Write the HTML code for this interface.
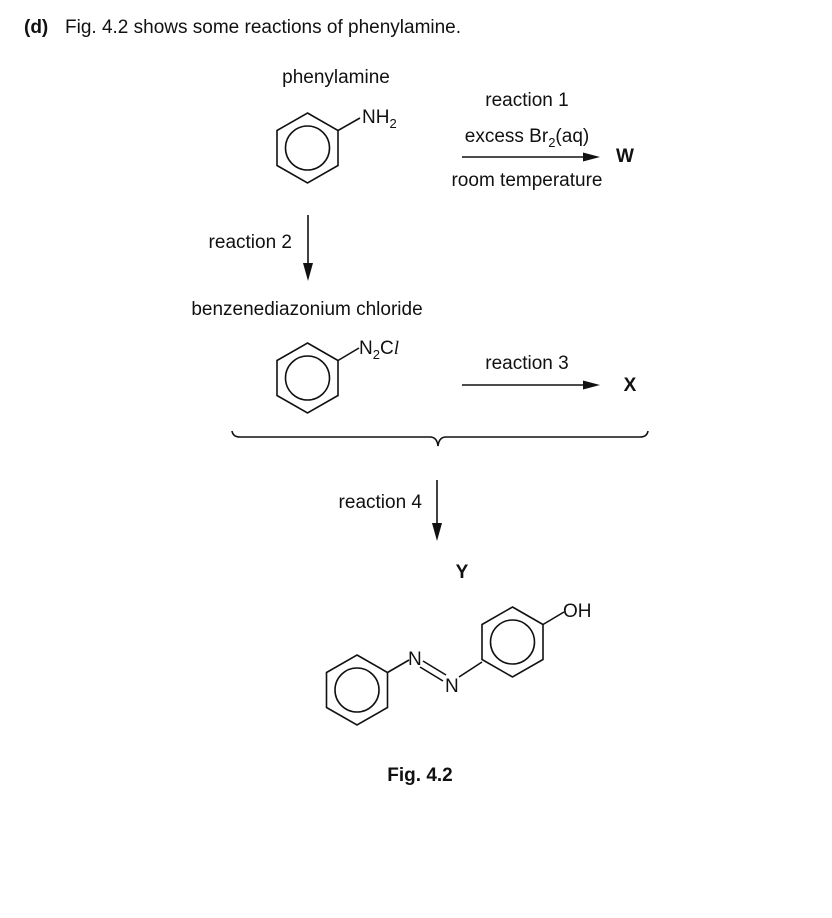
<!DOCTYPE html>
<html><head><meta charset="utf-8"><style>
html,body{margin:0;padding:0;background:#fff;}
svg{display:block;}
text{font-family:"Liberation Sans",Arial,sans-serif;fill:#111;}
</style></head><body>
<svg width="832" height="918" viewBox="0 0 832 918" xmlns="http://www.w3.org/2000/svg">
<g font-size="19">
<text x="24" y="33" font-weight="bold">(d)</text>
<text x="65" y="33">Fig. 4.2 shows some reactions of phenylamine.</text>
<text x="336" y="83" text-anchor="middle">phenylamine</text>
<text x="527" y="106" text-anchor="middle">reaction 1</text>
<text x="527" y="142" text-anchor="middle">excess Br<tspan font-size="13" dy="5">2</tspan><tspan dy="-5">(aq)</tspan></text>
<text x="527" y="186" text-anchor="middle">room temperature</text>
<text x="625" y="162" font-weight="bold" text-anchor="middle">W</text>
<text x="362" y="123">NH<tspan font-size="13" dy="5">2</tspan></text>
<text x="292" y="248" text-anchor="end">reaction 2</text>
<text x="307" y="315" text-anchor="middle">benzenediazonium chloride</text>
<text x="359" y="354">N<tspan font-size="13" dy="5">2</tspan><tspan dy="-5">C</tspan><tspan font-family="Liberation Serif" font-style="italic">l</tspan></text>
<text x="527" y="369" text-anchor="middle">reaction 3</text>
<text x="630" y="391" font-weight="bold" text-anchor="middle">X</text>
<text x="422" y="508" text-anchor="end">reaction 4</text>
<text x="462" y="578" font-weight="bold" text-anchor="middle">Y</text>
<text x="408" y="665">N</text>
<text x="445" y="692">N</text>
<text x="563" y="617">OH</text>
<text x="420" y="781" font-weight="bold" text-anchor="middle">Fig. 4.2</text>
</g>
<g fill="none" stroke="#111" stroke-width="1.6">
<polygon points="307.5,113 338,130.5 338,165.5 307.5,183 277,165.5 277,130.5"/>
<circle cx="307.5" cy="148" r="22"/>
<line x1="338" y1="130.5" x2="360" y2="118"/>
<polygon points="307.5,343 338,360.5 338,395.5 307.5,413 277,395.5 277,360.5"/>
<circle cx="307.5" cy="378" r="22"/>
<line x1="338" y1="360.5" x2="359" y2="348"/>
<polygon points="357,655 387.5,672.5 387.5,707.5 357,725 326.5,707.5 326.5,672.5"/>
<circle cx="357" cy="690" r="22"/>
<line x1="387.5" y1="672.5" x2="409" y2="660"/>
<line x1="423" y1="661" x2="446" y2="675"/>
<line x1="420" y1="667" x2="443" y2="681"/>
<line x1="459" y1="677" x2="482" y2="662"/>
<polygon points="512.5,607 543,624.5 543,659.5 512.5,677 482,659.5 482,624.5"/>
<circle cx="512.5" cy="642" r="22"/>
<line x1="543" y1="624.5" x2="564" y2="612"/>
<line x1="462" y1="157" x2="585" y2="157"/>
<line x1="308" y1="215" x2="308" y2="266"/>
<line x1="462" y1="385" x2="585" y2="385"/>
<line x1="437" y1="480" x2="437" y2="526"/>
<path d="M232,431 Q233,437 240,437 L430,437 Q437,437 438,446 Q439,437 446,437 L640,437 Q647,437 648,431"/>
</g>
<g fill="#111">
<polygon points="600,157 583,152.5 583,161.5"/>
<polygon points="308,281 303,263 313,263"/>
<polygon points="600,385 583,380.5 583,389.5"/>
<polygon points="437,541 432,523 442,523"/>
</g>
</svg>
</body></html>
